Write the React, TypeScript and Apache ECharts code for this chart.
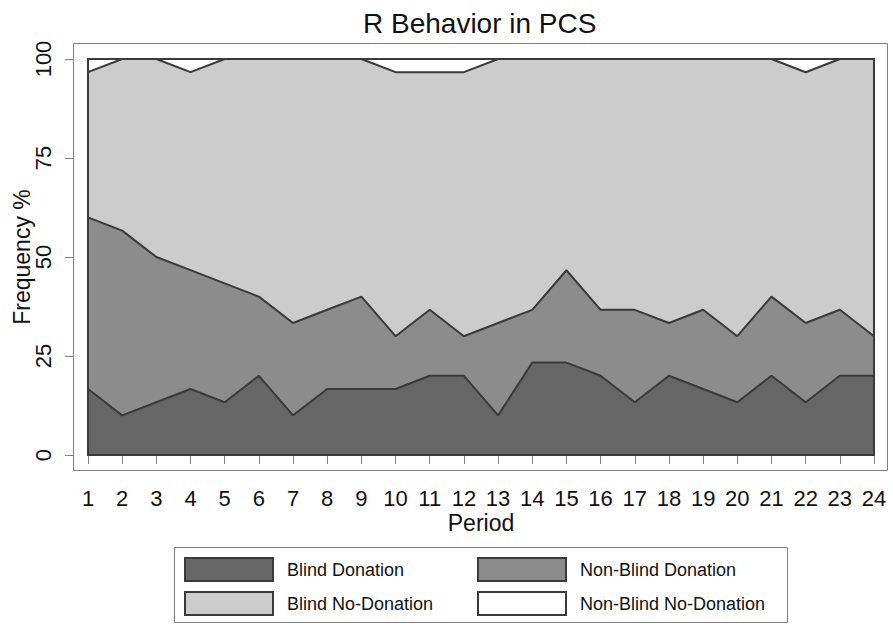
import React, { useEffect, useRef } from "react";
import * as echarts from "echarts";

const periods = ["1","2","3","4","5","6","7","8","9","10","11","12","13","14","15","16","17","18","19","20","21","22","23","24"];
const yTicks = [0, 25, 50, 75, 100];

const blindDonation = [16.67, 10, 13.33, 16.67, 13.33, 20, 10, 16.67, 16.67, 16.67, 20, 20, 10, 23.33, 23.33, 20, 13.33, 20, 16.67, 13.33, 20, 13.33, 20, 20];
const nonBlindDonation = [43.33, 46.67, 36.67, 30, 30, 20, 23.33, 20, 23.33, 13.33, 16.67, 10, 23.33, 13.33, 23.33, 16.67, 23.33, 13.33, 20, 16.67, 20, 20, 16.67, 10];
const blindNoDonation = [36.67, 43.33, 50, 50, 56.67, 60, 66.67, 63.33, 60, 66.67, 60, 66.67, 66.67, 63.33, 53.33, 63.33, 63.33, 66.67, 63.33, 70, 60, 63.33, 63.33, 70];
const nonBlindNoDonation = [3.33, 0, 0, 3.33, 0, 0, 0, 0, 0, 3.33, 3.33, 3.33, 0, 0, 0, 0, 0, 0, 0, 0, 0, 3.33, 0, 0];

const seriesNames = ["Blind Donation", "Non-Blind Donation", "Blind No-Donation", "Non-Blind No-Donation"];
const fills = ["#666666", "#8c8c8c", "#cccccc", "#ffffff"];
const FONT = "Liberation Sans, Arial, Helvetica, sans-serif";
const LINE = "#3a3a3a";

export default function App() {
  const ref = useRef<HTMLDivElement>(null);
  useEffect(() => {
    if (!ref.current) return;
    const chart = echarts.init(ref.current, null, { renderer: "svg" });
    const values = [blindDonation, nonBlindDonation, blindNoDonation, nonBlindNoDonation];
    const legendItem = (i: number) => ({
      name: seriesNames[i],
      itemStyle: { color: fills[i], borderColor: LINE, borderWidth: 2 },
    });
    const makeLegend = (left: number, items: number[]) => ({
      orient: "vertical",
      left,
      top: 557,
      width: 300,
      height: 70,
      padding: 0,
      icon: "rect",
      itemWidth: 88,
      itemHeight: 23,
      itemGap: 9,
      selectedMode: false,
      textStyle: { fontSize: 18, color: "#111", fontFamily: FONT, padding: [0, 0, 0, 9] },
      data: items.map(legendItem),
    });
    chart.setOption({
      animation: false,
      backgroundColor: "#ffffff",
      title: {
        text: "R Behavior in PCS",
        left: 358,
        top: 4,
        textStyle: { fontSize: 28, fontWeight: "normal", color: "#111", fontFamily: FONT },
      },
      grid: {
        left: 88,
        right: 19,
        top: 59,
        bottom: 169,
        containLabel: false,
        outerBoundsMode: "none",
        show: true,
        borderColor: LINE,
        borderWidth: 2,
        backgroundColor: "transparent",
        z: 10,
      },
      legend: [makeLegend(184, [0, 2]), makeLegend(477, [1, 3])],
      graphic: [
        {
          type: "rect",
          shape: { x: 73.5, y: 43.5, width: 814, height: 427 },
          style: { fill: "none", stroke: "#808080", lineWidth: 1 },
          z: 0,
        },
        {
          type: "rect",
          shape: { x: 174.5, y: 547.5, width: 613, height: 75 },
          style: { fill: "none", stroke: "#808080", lineWidth: 1 },
          z: 0,
        },
      ],
      xAxis: {
        type: "category",
        data: periods,
        boundaryGap: false,
        offset: 15,
        name: "Period",
        nameLocation: "middle",
        nameGap: 44,
        nameMoveOverlap: false,
        nameTextStyle: { fontSize: 23, lineHeight: 18, color: "#111", fontFamily: FONT },
        axisLine: { show: false },
        axisTick: { show: true, length: 9, lineStyle: { color: "#808080", width: 1 } },
        axisLabel: { fontSize: 22, lineHeight: 18, color: "#111", fontFamily: FONT, margin: 19, interval: 0 },
        splitLine: { show: false },
      },
      yAxis: {
        type: "value",
        min: yTicks[0],
        max: yTicks[yTicks.length - 1],
        interval: 25,
        offset: 15,
        name: "Frequency %",
        nameLocation: "middle",
        nameGap: 40,
        nameMoveOverlap: false,
        nameRotate: 90,
        nameTextStyle: { fontSize: 23, color: "#111", fontFamily: FONT },
        axisLine: { show: false },
        axisTick: { show: true, length: 8, lineStyle: { color: "#808080", width: 1 } },
        axisLabel: { fontSize: 22, color: "#111", fontFamily: FONT, rotate: 90, margin: 19 },
        splitLine: { show: false },
      },
      series: values.map((v, i) => ({
        name: seriesNames[i],
        type: "line",
        stack: "total",
        data: v,
        symbol: "none",
        z: 6 - i,
        lineStyle: { color: LINE, width: 2 },
        itemStyle: { color: fills[i] },
        areaStyle: { color: fills[i], opacity: 1 },
      })),
    });
    return () => chart.dispose();
  }, []);
  return <div ref={ref} style={{ position: "fixed", left: 0, top: 0, width: 893, height: 624 }} />;
}
